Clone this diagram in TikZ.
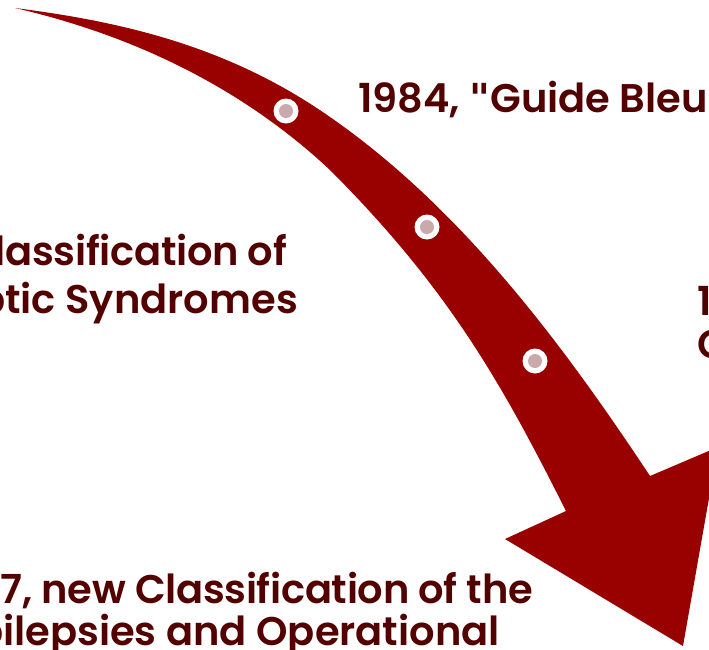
\documentclass[tikz,border=0pt]{standalone}
\usepackage{fontspec}
\setmainfont{Poppins}[BoldFont={Poppins SemiBold}]
\newfontfamily\qfont{DejaVu Sans}
\definecolor{arrowred}{HTML}{990000}
\definecolor{txtred}{HTML}{520000}
\definecolor{dotfill}{HTML}{C9A9AB}
\begin{document}
\begin{tikzpicture}[x=1pt,y=-1pt,
  lbl/.style={text=txtred, font=\fontsize{40}{48}\selectfont\bfseries, inner sep=0pt},
  tight/.style={font=\fontsize{40}{48}\selectfont\bfseries\addfontfeatures{LetterSpace=-0.8}},
  ring/.style={circle, fill=white, minimum size=25pt, inner sep=0pt},
  core/.style={circle, fill=dotfill, minimum size=14pt, inner sep=0pt}]
\useasboundingbox (0,0) rectangle (709,649);
\clip (0,0) rectangle (709,649);
\fill[arrowred] (15,8) .. controls (125,22) and (230,47) .. (330,117)
  .. controls (461,208) and (562,343) .. (650,476)
  -- (718,447) -- (683,646) -- (505,539) -- (566,511)
  .. controls (503,386) and (450,290) .. (330,170)
  .. controls (250,95) and (145,38) .. (15,8) -- cycle;
\foreach \n/\p in {d1/{(286,111)}, d2/{(427,227)}, d3/{(535,361)}} {
  \node[ring] (\n) at \p {};
  \node[core] at (\n) {};
}
\node[lbl, anchor=base west] (t1984) at (358,112) {1984, {\qfont\bfseries\char"22}Guide Bleu};
\node[lbl, tight, anchor=base east] (tcl1) at (287,265) {Classification of};
\node[lbl, anchor=base east] (tcl2) at (298,313) {ptic Syndromes};
\node[lbl, anchor=base west] (tr1) at (697,315) {1};
\node[lbl, anchor=base west] (tr2) at (697,358) {C};
\node[lbl, tight, anchor=base east] (tb1) at (533,603) {7, new Classification of the};
\node[lbl, anchor=base east] (tb2) at (500,645) {pilepsies and Operational};
\end{tikzpicture}
\end{document}
